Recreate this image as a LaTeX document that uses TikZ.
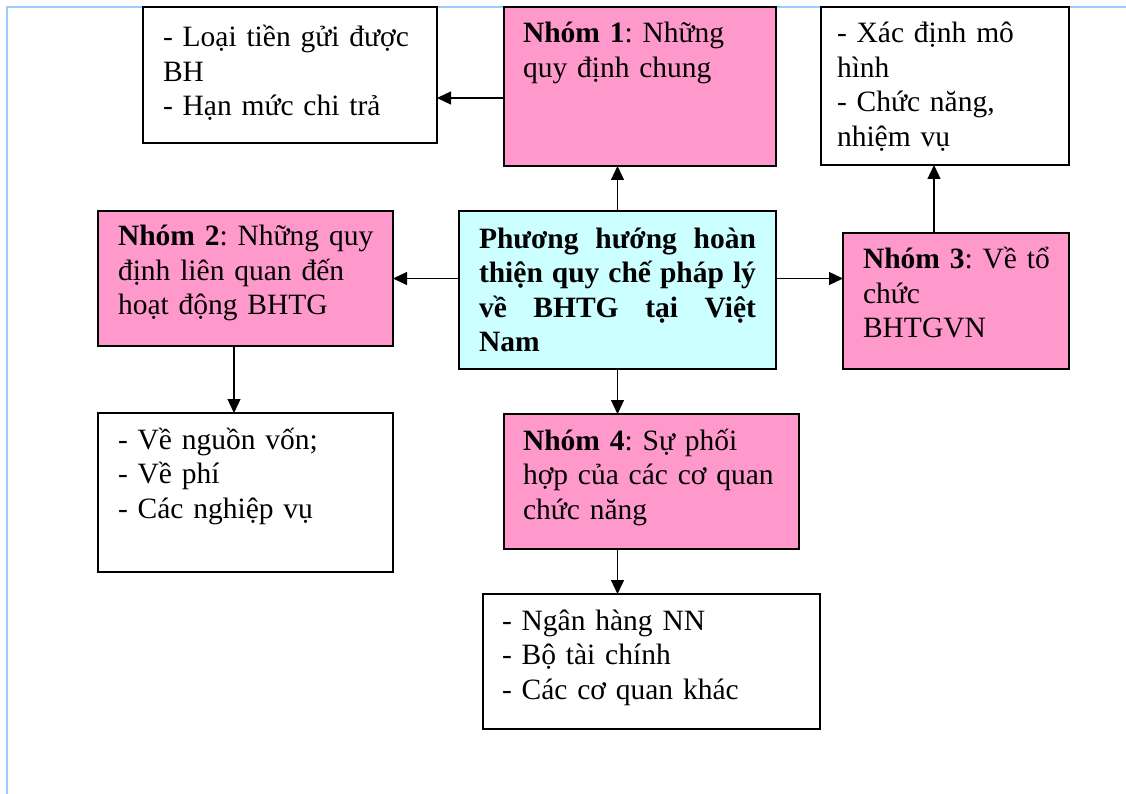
\documentclass[tikz,border=0pt]{standalone}
\usepackage{fontspec}
\setmainfont{Liberation Serif}
\usetikzlibrary{arrows.meta}
\frenchspacing

\definecolor{groupfill}{HTML}{FF99CC}
\definecolor{corefill}{HTML}{CCFFFF}
\definecolor{framecol}{HTML}{9CCBFF}

\tikzset{
  boxframe/.style={draw=black, line width=1.6pt, inner sep=0pt, outer sep=0pt, anchor=north west},
  boxtext/.style={inner sep=0pt, outer sep=0pt, anchor=base west, align=left,
    font=\fontsize{29.5}{34.5}\selectfont},
  arr/.style={line width=1.3pt, -{Triangle[length=14pt,width=13pt]}},
}

% box with top-left corner at (#2,#3) and size #4 x #5
\newcommand{\mkbox}[6]{%
  \node[boxframe, fill=#6, minimum width=#4pt, minimum height=#5pt] (#1) at (#2,#3) {};}
% one fully justified line: words separated by \hfill
\newcommand{\jline}[1]{\leavevmode\hbox to \linewidth{#1}\par}

\begin{document}
\begin{tikzpicture}[x=1pt,y=-1pt]
\useasboundingbox (0,0) rectangle (1126,794);

% page frame
\draw[framecol, line width=2pt] (7,794) -- (7,7) -- (1126,7);

% boxes
\mkbox{a}{143}{7}{294}{136}{white}
\mkbox{n1}{504}{7}{272}{159}{groupfill}
\mkbox{r}{821}{7}{248}{158}{white}
\mkbox{n2}{98}{211}{295}{135}{groupfill}
\mkbox{c}{459}{211}{317}{158}{corefill}
\mkbox{n3}{843}{233}{226}{136}{groupfill}
\mkbox{b}{98}{413}{295}{159}{white}
\mkbox{n4}{504}{414}{295}{135}{groupfill}
\mkbox{d}{483}{594}{337}{135}{white}

% texts
\node[boxtext, text width=260pt] (a-t) at (163,47)
  {- Loại tiền gửi được\\BH\\- Hạn mức chi trả};
\node[boxtext, text width=240pt] (n1-t) at (523,43)
  {\textbf{Nhóm 1}: Những\\quy định chung};
\node[boxtext, text width=225pt] (r-t) at (837,43)
  {- Xác định mô\\hình\\- Chức năng,\\nhiệm vụ};
\node[boxtext, text width=265pt] (n2-t) at (118,246)
  {\textbf{Nhóm 2}: Những quy\\định liên quan đến\\hoạt động BHTG};
\node[boxtext, text width=277pt, font=\fontsize{29.5}{34.5}\selectfont\bfseries] (c-t) at (479,248)
  {\jline{Phương\hfill hướng\hfill hoàn}%
   \jline{thiện\hfill quy\hfill chế\hfill pháp\hfill lý}%
   \jline{về\hfill BHTG\hfill tại\hfill Việt}%
   Nam};
\node[boxtext, text width=200pt] (n3-t) at (863,269)
  {\textbf{Nhóm 3}: Về tổ\\chức\\BHTGVN};
\node[boxtext, text width=265pt] (b-t) at (118,449)
  {- Về nguồn vốn;\\- Về phí\\- Các nghiệp vụ};
\node[boxtext, text width=260pt] (n4-t) at (523,450)
  {\textbf{Nhóm 4}: Sự phối\\hợp của các cơ quan\\chức năng};
\node[boxtext, text width=300pt] (d-t) at (502,630)
  {- Ngân hàng NN\\- Bộ tài chính\\- Các cơ quan khác};

% connectors
\coordinate (y1) at (0,98);
\coordinate (x3) at (934,0);
\coordinate (x2) at (234,0);
\draw[arr] (c.north) -- (c.north |- n1.south);
\draw[arr] (n1.west |- y1) -- (a.east |- y1);
\draw[arr] (c.west |- n2.east) -- (n2.east);
\draw[arr] (c.east |- n2.east) -- (n3.west |- n2.east);
\draw[arr] (x3 |- n3.north) -- (x3 |- r.south);
\draw[arr] (x2 |- n2.south) -- (x2 |- b.north);
\draw[arr] (c.south) -- (c.south |- n4.north);
\draw[arr] (c.south |- n4.south) -- (c.south |- d.north);
\end{tikzpicture}
\end{document}
